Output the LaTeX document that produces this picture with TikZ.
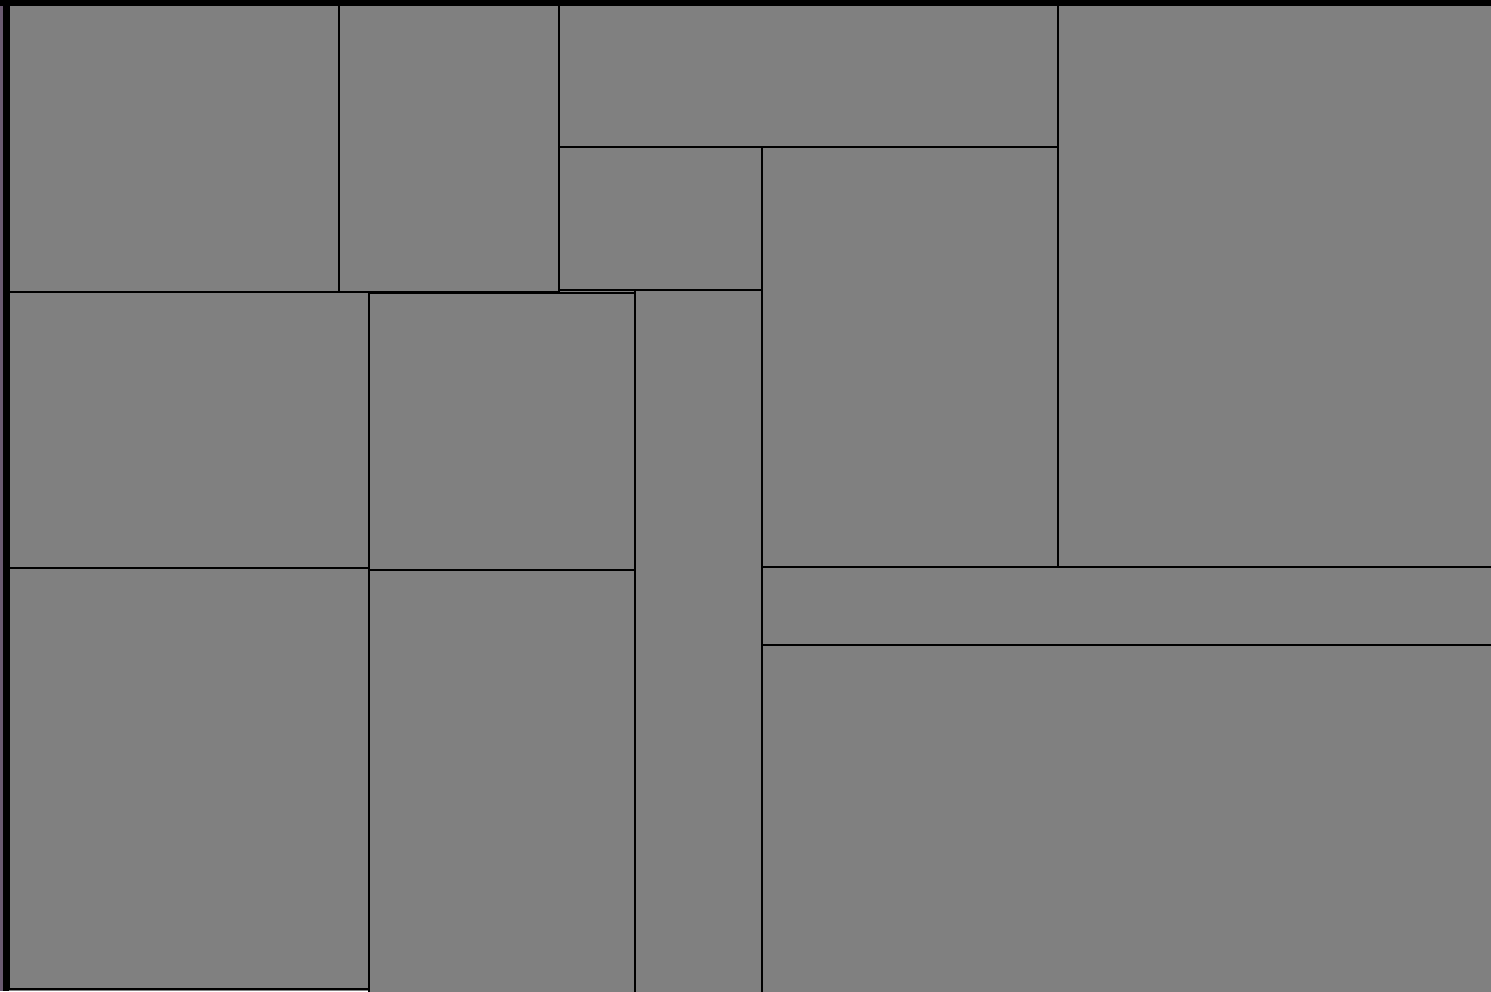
\documentclass[tikz,border=0pt]{standalone}
\begin{document}
\begin{tikzpicture}[x=1pt,y=-1pt,
  cell/.style={draw=black,line width=2pt,fill=cellgray},
  edge/.style={draw=black,line width=6pt}]
\definecolor{cellgray}{HTML}{808080}
\definecolor{stripcol}{HTML}{6A5A70}
\useasboundingbox (0,0) rectangle (1491,991);
\fill[cellgray] (0,0) rectangle (1491,991);
\fill[stripcol] (0,0) rectangle (3,991);
% cells
\path[cell] (9,5) rectangle (339,292);
\path[cell] (339,5) rectangle (559,292);
\path[cell] (559,5) rectangle (1058,147);
\path[cell] (559,147) rectangle (762,290);
\path[cell] (762,147) rectangle (1058,567);
\path[cell] (1058,5) rectangle (1495,567);
\path[cell] (9,292) rectangle (369,568);
\path[cell] (369,293) rectangle (635,570);
\path[cell] (635,290) rectangle (762,995);
\path[cell] (9,568) rectangle (369,989);
\path[cell] (369,570) rectangle (635,995);
\path[cell] (762,567) rectangle (1495,645);
\path[cell] (762,645) rectangle (1495,995);
% outer borders
\draw[edge] (0,2.5) -- (1491,2.5);
\draw[edge] (6,0) -- (6,991);
\end{tikzpicture}
\end{document}
